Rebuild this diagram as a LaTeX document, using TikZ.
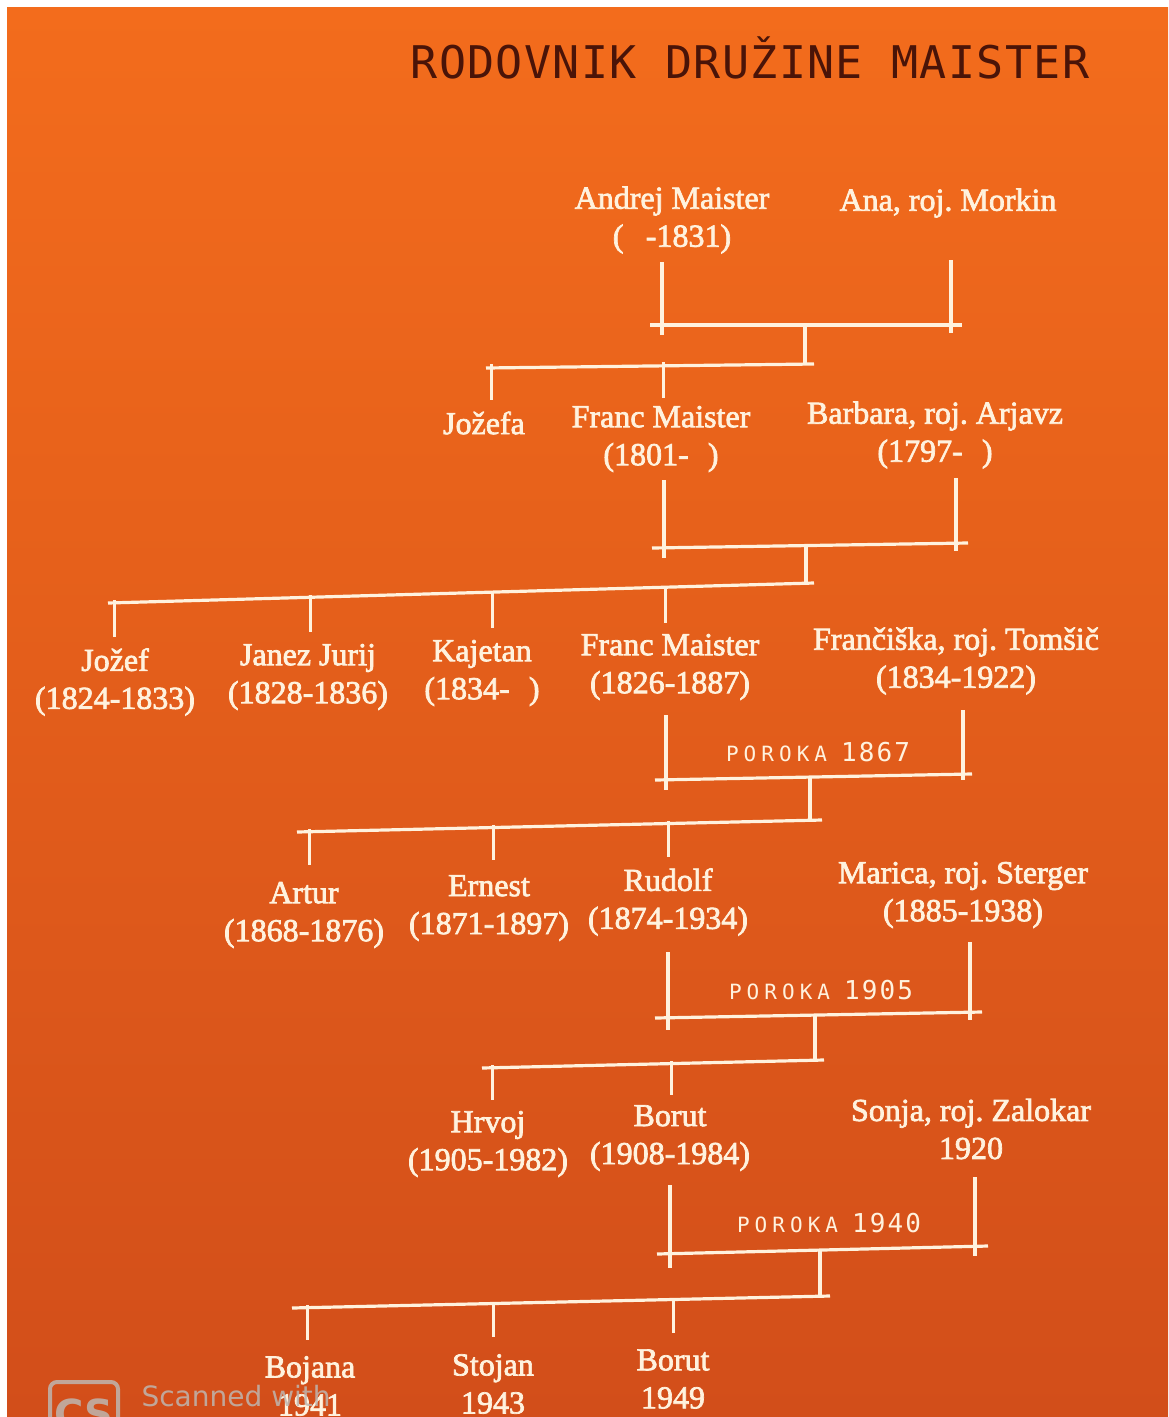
\documentclass[tikz,border=0pt]{standalone}
\usepackage{fontspec}
\usepackage{tikz}
\usetikzlibrary{positioning}
\setmainfont[FakeBold=2.2]{Liberation Serif}
\newfontfamily\titlefont[LetterSpace=3]{DejaVu Sans Mono}
\newfontfamily\porokafont[LetterSpace=24]{DejaVu Sans Mono}
\newfontfamily\yearfont[LetterSpace=8]{DejaVu Sans Mono}
\newfontfamily\scanfont{DejaVu Sans}
\definecolor{sheettop}{HTML}{F36C1C}
\definecolor{sheetmid}{HTML}{E65C1A}
\definecolor{sheetbottom}{HTML}{D24E1A}
\definecolor{inkcolor}{HTML}{FFF2DE}
\definecolor{titlecolor}{HTML}{4A1408}
\definecolor{scancolor}{HTML}{BEB6B0}
\newcommand{\poroka}[1]{{\porokafont\fontsize{21}{21}\selectfont POROKA}\hspace{14pt}{\yearfont\fontsize{26}{26}\selectfont #1}}
\frenchspacing

\begin{document}
\begin{tikzpicture}[
        x=1pt,
        y=-1pt,
        person/.style={text=inkcolor, align=center, inner sep=0pt,
            font=\fontsize{32}{38}\selectfont},
        weddinglabel/.style={text=inkcolor, inner sep=0pt},
        treeline/.style={draw=inkcolor, line width=3.2pt},
        tickline/.style={draw=inkcolor, line width=3pt}
    ]
        \useasboundingbox (0,0) rectangle (1168,1417);
        \fill[white] (0,0) rectangle (1168,1417);
        \shade[top color=sheettop, middle color=sheetmid, bottom color=sheetbottom]
            (7,7) rectangle (1168,1417);

        \node[text=titlecolor, inner sep=0pt, font=\titlefont\fontsize{45}{45}\selectfont]
            (title) at (750,58) {RODOVNIK DRUŽINE MAISTER};

        % generation 1
        \node[person] (andrej) at (672,220) {Andrej Maister\\(\hspace{0.7em}-1831)};
        \node[person] (ana) at (948,203) {Ana, roj. Morkin};

        % generation 2
        \node[person] (jozefa) at (484,423) {Jožefa};
        \node[person] (francst) at (661,439) {Franc Maister\\(1801-\hspace{0.6em})};
        \node[person] (barbara) at (935,435) {Barbara, roj. Arjavz\\(1797-\hspace{0.6em})};

        % generation 3
        \node[person] (jozef) at (115,682) {Jožef\\(1824-1833)};
        \node[person] (janez) at (308,677) {Janez Jurij\\(1828-1836)};
        \node[person] (kajetan) at (482,673) {Kajetan\\(1834-\hspace{0.6em})};
        \node[person] (franc) at (670,667) {Franc Maister\\(1826-1887)};
        \node[person] (franciska) at (956,661) {Frančiška, roj. Tomšič\\(1834-1922)};

        % generation 4
        \node[person] (artur) at (304,915) {Artur\\(1868-1876)};
        \node[person] (ernest) at (489,908) {Ernest\\(1871-1897)};
        \node[person] (rudolf) at (668,902) {Rudolf\\(1874-1934)};
        \node[person] (marica) at (963,895) {Marica, roj. Sterger\\(1885-1938)};

        % generation 5
        \node[person] (hrvoj) at (488,1144) {Hrvoj\\(1905-1982)};
        \node[person] (borut) at (670,1138) {Borut\\(1908-1984)};
        \node[person] (sonja) at (971,1129) {Sonja, roj. Zalokar\\1920};

        % generation 6
        \node[person] (bojana) at (310,1386) {Bojana\\1941};
        \node[person] (stojan) at (493,1384) {Stojan\\1943};
        \node[person] (borutml) at (673,1379) {Borut\\1949};

        \node[weddinglabel] (wedding1) at (818,752) {\poroka{1867}};
        \node[weddinglabel] (wedding2) at (821,990) {\poroka{1905}};
        \node[weddinglabel] (wedding3) at (829,1223) {\poroka{1940}};

        % Andrej + Ana
        \coordinate (bar1l) at (650,325);
        \coordinate (bar1r) at (962,325);
        \coordinate (bar1m) at (805,325);
        \coordinate (andrejleg) at (662,262);
        \coordinate (analeg) at (951,260);
        \coordinate (kids1l) at (486,368);
        \coordinate (kids1r) at (814,364);
        \coordinate (tjozefa) at (491,364);
        \coordinate (tfrancst) at (663,362);
        \draw[treeline] (bar1l) -- (bar1r);
        \draw[treeline, shorten >=-10pt] (andrejleg) -- (andrejleg |- bar1l);
        \draw[treeline, shorten >=-8pt] (analeg) -- (analeg |- bar1r);
        \draw[treeline] (bar1m) -- (bar1m |- kids1r);
        \draw[treeline] (kids1l) -- (kids1r);
        \draw[tickline] (tjozefa) -- ++(0,36);
        \draw[tickline] (tfrancst) -- ++(0,36);

        % Franc + Barbara
        \coordinate (bar2l) at (652,548);
        \coordinate (bar2r) at (968,543);
        \coordinate (bar2m) at (806,545);
        \coordinate (francstleg) at (664,480);
        \coordinate (barbaraleg) at (956,478);
        \coordinate (kids2l) at (108,603);
        \coordinate (kids2r) at (814,583);
        \coordinate (tjozef) at (114,600);
        \coordinate (tjanez) at (310,595);
        \coordinate (tkajetan) at (492,591);
        \coordinate (tfranc) at (665,586);
        \draw[treeline] (bar2l) -- (bar2r);
        \draw[treeline, shorten >=-10pt] (francstleg) -- (francstleg |- bar2l);
        \draw[treeline, shorten >=-8pt] (barbaraleg) -- (barbaraleg |- bar2r);
        \draw[treeline] (bar2m) -- (bar2m |- kids2r);
        \draw[treeline] (kids2l) -- (kids2r);
        \draw[tickline] (tjozef) -- ++(0,37);
        \draw[tickline] (tjanez) -- ++(0,37);
        \draw[tickline] (tkajetan) -- ++(0,37);
        \draw[tickline] (tfranc) -- ++(0,37);

        % Franc + Franciska
        \coordinate (bar3l) at (655,780);
        \coordinate (bar3r) at (972,774);
        \coordinate (bar3m) at (810,777);
        \coordinate (francleg) at (666,715);
        \coordinate (franciskaleg) at (963,710);
        \coordinate (kids3l) at (297,832);
        \coordinate (kids3r) at (822,820);
        \coordinate (tartur) at (309,829);
        \coordinate (ternest) at (493,825);
        \coordinate (trudolf) at (668,821);
        \draw[treeline] (bar3l) -- (bar3r);
        \draw[treeline, shorten >=-10pt] (francleg) -- (francleg |- bar3l);
        \draw[treeline, shorten >=-6pt] (franciskaleg) -- (franciskaleg |- bar3r);
        \draw[treeline] (bar3m) -- (bar3m |- kids3r);
        \draw[treeline] (kids3l) -- (kids3r);
        \draw[tickline] (tartur) -- ++(0,36);
        \draw[tickline] (ternest) -- ++(0,35);
        \draw[tickline] (trudolf) -- ++(0,36);

        % Rudolf + Marica
        \coordinate (bar4l) at (655,1018);
        \coordinate (bar4r) at (982,1012);
        \coordinate (bar4m) at (815,1015);
        \coordinate (rudolfleg) at (668,952);
        \coordinate (maricaleg) at (970,942);
        \coordinate (kids4l) at (482,1068);
        \coordinate (kids4r) at (824,1060);
        \coordinate (thrvoj) at (492,1065);
        \coordinate (tborut) at (671,1061);
        \draw[treeline] (bar4l) -- (bar4r);
        \draw[treeline, shorten >=-12pt] (rudolfleg) -- (rudolfleg |- bar4l);
        \draw[treeline, shorten >=-8pt] (maricaleg) -- (maricaleg |- bar4r);
        \draw[treeline] (bar4m) -- (bar4m |- kids4r);
        \draw[treeline] (kids4l) -- (kids4r);
        \draw[tickline] (thrvoj) -- ++(0,35);
        \draw[tickline] (tborut) -- ++(0,34);

        % Borut + Sonja
        \coordinate (bar5l) at (657,1254);
        \coordinate (bar5r) at (988,1246);
        \coordinate (bar5m) at (820,1250);
        \coordinate (borutleg) at (670,1185);
        \coordinate (sonjaleg) at (975,1177);
        \coordinate (kids5l) at (292,1308);
        \coordinate (kids5r) at (830,1296);
        \coordinate (tbojana) at (307,1305);
        \coordinate (tstojan) at (493,1302);
        \coordinate (tborutml) at (673,1298);
        \draw[treeline] (bar5l) -- (bar5r);
        \draw[treeline, shorten >=-14pt] (borutleg) -- (borutleg |- bar5l);
        \draw[treeline, shorten >=-10pt] (sonjaleg) -- (sonjaleg |- bar5r);
        \draw[treeline] (bar5m) -- (bar5m |- kids5r);
        \draw[treeline] (kids5l) -- (kids5r);
        \draw[tickline] (tbojana) -- ++(0,35);
        \draw[tickline] (tstojan) -- ++(0,35);
        \draw[tickline] (tborutml) -- ++(0,35);

        % scanner mark
        \draw[scancolor, line width=4pt, rounded corners=7pt, opacity=0.85]
            (50,1440) -- (50,1382) -- (118,1382) -- (118,1440);
        \node[text=scancolor, opacity=0.85, font=\scanfont\bfseries\fontsize{40}{40}\selectfont]
            (scanlogo) at (84,1414) {CS};
        \node[text=scancolor, opacity=0.85, anchor=west, font=\scanfont\fontsize{28}{28}\selectfont]
            (scantext) at (138,1396) {Scanned with};
    \end{tikzpicture}
\end{document}
